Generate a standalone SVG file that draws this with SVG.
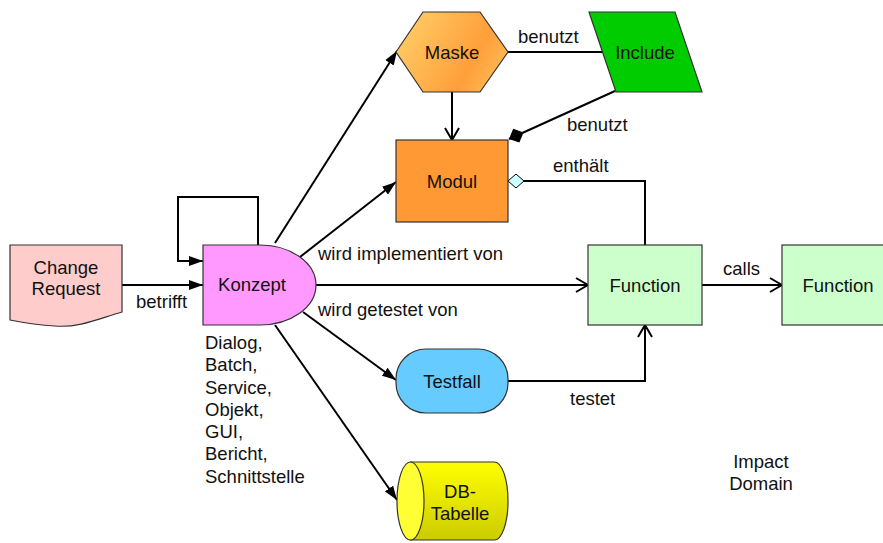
<svg xmlns="http://www.w3.org/2000/svg" width="883" height="543" viewBox="0 0 883 543">
<style>
text{font-family:"Liberation Sans",Arial,sans-serif;font-size:18.5px;fill:#111}
.c{text-anchor:middle}
.shape{stroke:#333;stroke-width:1.2}
.conn{fill:none;stroke:#000;stroke-width:2}
</style>
<defs>
<linearGradient id="gMaske" x1="0" y1="0.3" x2="1" y2="0.7">
<stop offset="0" stop-color="#FFCC66"/>
<stop offset="0.7" stop-color="#FF9F3A"/>
<stop offset="1" stop-color="#FFBB55"/>
</linearGradient>
<linearGradient id="gDB" x1="0" y1="0" x2="0" y2="1">
<stop offset="0" stop-color="#FFFF00"/>
<stop offset="1" stop-color="#CCCC00"/>
</linearGradient>
<marker id="aFill" viewBox="0 0 14 10" refX="14" refY="5" markerWidth="14" markerHeight="10" markerUnits="userSpaceOnUse" orient="auto">
<path d="M0,0 L14,5 L0,10 Z" fill="#000"/>
</marker>
<marker id="aOpen" viewBox="-1 -1 14 16" refX="12" refY="7" markerWidth="14" markerHeight="16" markerUnits="userSpaceOnUse" orient="auto">
<path d="M0,0 L12,7 L0,14" fill="none" stroke="#000" stroke-width="2"/>
</marker>
<marker id="dFill" viewBox="0 -8 17 16" refX="16" refY="0" markerWidth="17" markerHeight="16" markerUnits="userSpaceOnUse" orient="auto">
<path d="M0,0 L8,-7.5 L16,0 L8,7.5 Z" fill="#000"/>
</marker>
<marker id="dOpen" viewBox="-1 -7 18 14" refX="0" refY="0" markerWidth="18" markerHeight="14" markerUnits="userSpaceOnUse" orient="auto">
<path d="M0,0 L8,-7 L16,0 L8,7 Z" fill="#CCFFFF" stroke="#000" stroke-width="1"/>
</marker>
</defs>

<g id="connectors">
<path class="conn" d="M122,285 L203,285" marker-end="url(#aFill)"/>
<path class="conn" d="M258,245 L258,197 L178,197 L178,261 L203,261" marker-end="url(#aFill)"/>
<path class="conn" d="M275,243 L397,51" marker-end="url(#aFill)"/>
<path class="conn" d="M300,257 L396,182" marker-end="url(#aFill)"/>
<path class="conn" d="M316,285 L588,285" marker-end="url(#aOpen)"/>
<path class="conn" d="M303,312 L396,380" marker-end="url(#aFill)"/>
<path class="conn" d="M275,325 L397,500" marker-end="url(#aFill)"/>
<path class="conn" d="M508,52 L603,52"/>
<path class="conn" d="M452,92 L452,140" marker-end="url(#aOpen)"/>
<path class="conn" d="M615,91 L509,139" marker-end="url(#dFill)"/>
<path class="conn" d="M508,181 L645,181 L645,245" marker-start="url(#dOpen)"/>
<path class="conn" d="M508,381 L645,381 L645,325" marker-end="url(#aOpen)"/>
<path class="conn" d="M702,285 L782,285" marker-end="url(#aOpen)"/>
</g>

<g id="change-request">
<path class="shape" d="M10,245 L122,245 L122,312 C100,318 80,328 55,326 C35,325 20,322 10,320 Z" fill="#FFCCCC"/>
<text class="c" x="66" y="274">Change</text>
<text class="c" x="66" y="295">Request</text>
</g>

<g id="konzept">
<path class="shape" d="M203,245 L260,245 A56,40 0 0 1 260,325 L203,325 Z" fill="#FF99FF"/>
<text class="c" x="252" y="291">Konzept</text>
</g>

<g id="maske">
<path class="shape" d="M396,52 L423,12 L480,12 L508,52 L480,92 L423,92 Z" fill="url(#gMaske)"/>
<text class="c" x="452" y="59">Maske</text>
</g>

<g id="include">
<path class="shape" d="M589,12 L675,12 L702,92 L616,92 Z" fill="#00CC00"/>
<text class="c" x="645" y="59">Include</text>
</g>

<g id="modul">
<rect class="shape" x="396" y="140" width="112" height="82" fill="#FF9933"/>
<text class="c" x="452" y="188">Modul</text>
</g>

<g id="function1">
<rect class="shape" x="588" y="245" width="114" height="80" fill="#CCFFCC"/>
<text class="c" x="645" y="292">Function</text>
</g>

<g id="function2">
<rect class="shape" x="782" y="245" width="114" height="80" fill="#CCFFCC"/>
<text class="c" x="838" y="292">Function</text>
</g>

<g id="testfall">
<rect class="shape" x="396" y="349" width="112" height="64" rx="30" ry="30" fill="#66CCFF"/>
<text class="c" x="452" y="388">Testfall</text>
</g>

<g id="db-tabelle">
<path class="shape" d="M410.5,462 L494.5,462 A13.5,39 0 0 1 494.5,540 L410.5,540 Z" fill="url(#gDB)"/>
<ellipse class="shape" cx="410.5" cy="501" rx="13.5" ry="39" fill="#FFFF33"/>
<text class="c" x="460" y="498">DB-</text>
<text class="c" x="460" y="520">Tabelle</text>
</g>

<g id="labels">
<text x="136" y="308">betrifft</text>
<text x="318" y="260">wird implementiert von</text>
<text x="318" y="316">wird getestet von</text>
<text x="518" y="43">benutzt</text>
<text x="567" y="131">benutzt</text>
<text x="553" y="172">enthält</text>
<text x="723" y="275">calls</text>
<text x="570" y="405">testet</text>
<text x="205" y="349">Dialog,</text>
<text x="205" y="371">Batch,</text>
<text x="205" y="394">Service,</text>
<text x="205" y="416">Objekt,</text>
<text x="205" y="438">GUI,</text>
<text x="205" y="460">Bericht,</text>
<text x="205" y="483">Schnittstelle</text>
<text class="c" x="761" y="468">Impact</text>
<text class="c" x="761" y="490">Domain</text>
</g>
</svg>
